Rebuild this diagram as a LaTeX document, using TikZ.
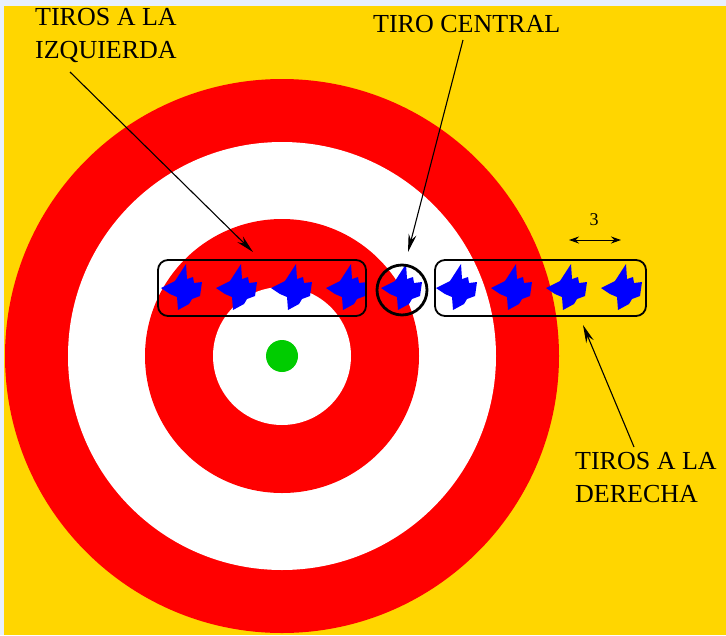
\documentclass[tikz,border=0pt]{standalone}
\usepackage{fontspec}
\setmainfont{Liberation Serif}
\usetikzlibrary{positioning, arrows.meta}
\definecolor{gold}{RGB}{255,214,0}
\definecolor{ringred}{RGB}{255,0,0}
\definecolor{shotblue}{RGB}{0,0,255}
\definecolor{bullgreen}{RGB}{0,204,0}
\definecolor{edgeblue}{RGB}{232,240,252}
\tikzset{
    lbl/.style={inner sep=0pt, anchor=north west, align=left, font=\fontsize{26}{33}\selectfont},
    group/.style={rectangle, rounded corners=10pt, draw=black, line width=1.8pt, minimum height=56pt, inner sep=0pt},
    ring/.style={circle, draw=black, line width=2.8pt, minimum size=50pt, inner sep=0pt},
    pointer/.style={-{Stealth[length=18pt,width=8pt]}, line width=1.1pt},
    shot/.pic={\fill[shotblue] (-22,0) -- (-8,-7) -- (3,-24) -- (4,-9) -- (10,-11) -- (11,-5) -- (19,-6) -- (17,8) -- (9,11) -- (6,16) -- (-5,22) -- (-6,9) -- (-13,6) -- cycle;}
}

\begin{document}
\begin{tikzpicture}[x=1pt, y=-1pt]
    \useasboundingbox (0,0) rectangle (726,635);
    \fill[edgeblue] (0,0) rectangle (726,635);
    \fill[gold] (4,6) rectangle (726,635);
    % diana
    \fill[ringred] (282,356) circle[radius=277pt];
    \fill[white] (282,356) circle[radius=214pt];
    \fill[ringred] (282,356) circle[radius=137pt];
    \fill[white] (282,356) circle[radius=69pt];
    \fill[bullgreen] (282,356) circle[radius=16pt];

    \foreach \i in {0,...,8}
        \pic (s\i) at ({183+55*\i},288) {shot};

    \node (boxLeft) [group, minimum width=208pt] at (262,288) {};
    \node (ringCentral) [ring] at (402,290) {};
    \node (boxRight) [group, minimum width=211pt] at (540.5,288) {};

    \node (lblLeft) [lbl] at (35,8) {TIROS A LA\\IZQUIERDA};
    \node (lblCentral) [lbl] at (373,15) {TIRO CENTRAL};
    \node (lblRight) [lbl] at (575,452) {TIROS A LA\\DERECHA};

    \coordinate (fromLeft) at (70,72);
    \coordinate (tipLeft) at (253,252);
    \coordinate (fromCentral) at (463,40);
    \coordinate (tipCentral) at (408,252);
    \coordinate (fromRight) at (634,447);
    \coordinate (tipRight) at (583,325);
    \draw[pointer] (fromLeft) -- (tipLeft);
    \draw[pointer] (fromCentral) -- (tipCentral);
    \draw[pointer] (fromRight) -- (tipRight);

    \coordinate (dimA) at (569,240);
    \coordinate (dimB) at (621,240);
    \draw[{Stealth[length=10pt,width=7pt]}-{Stealth[length=10pt,width=7pt]}, line width=1pt] (dimA) -- (dimB);
    \node (dimTxt) [font=\fontsize{18}{20}\selectfont, inner sep=0pt] at (594,220) {3};
\end{tikzpicture}
\end{document}
